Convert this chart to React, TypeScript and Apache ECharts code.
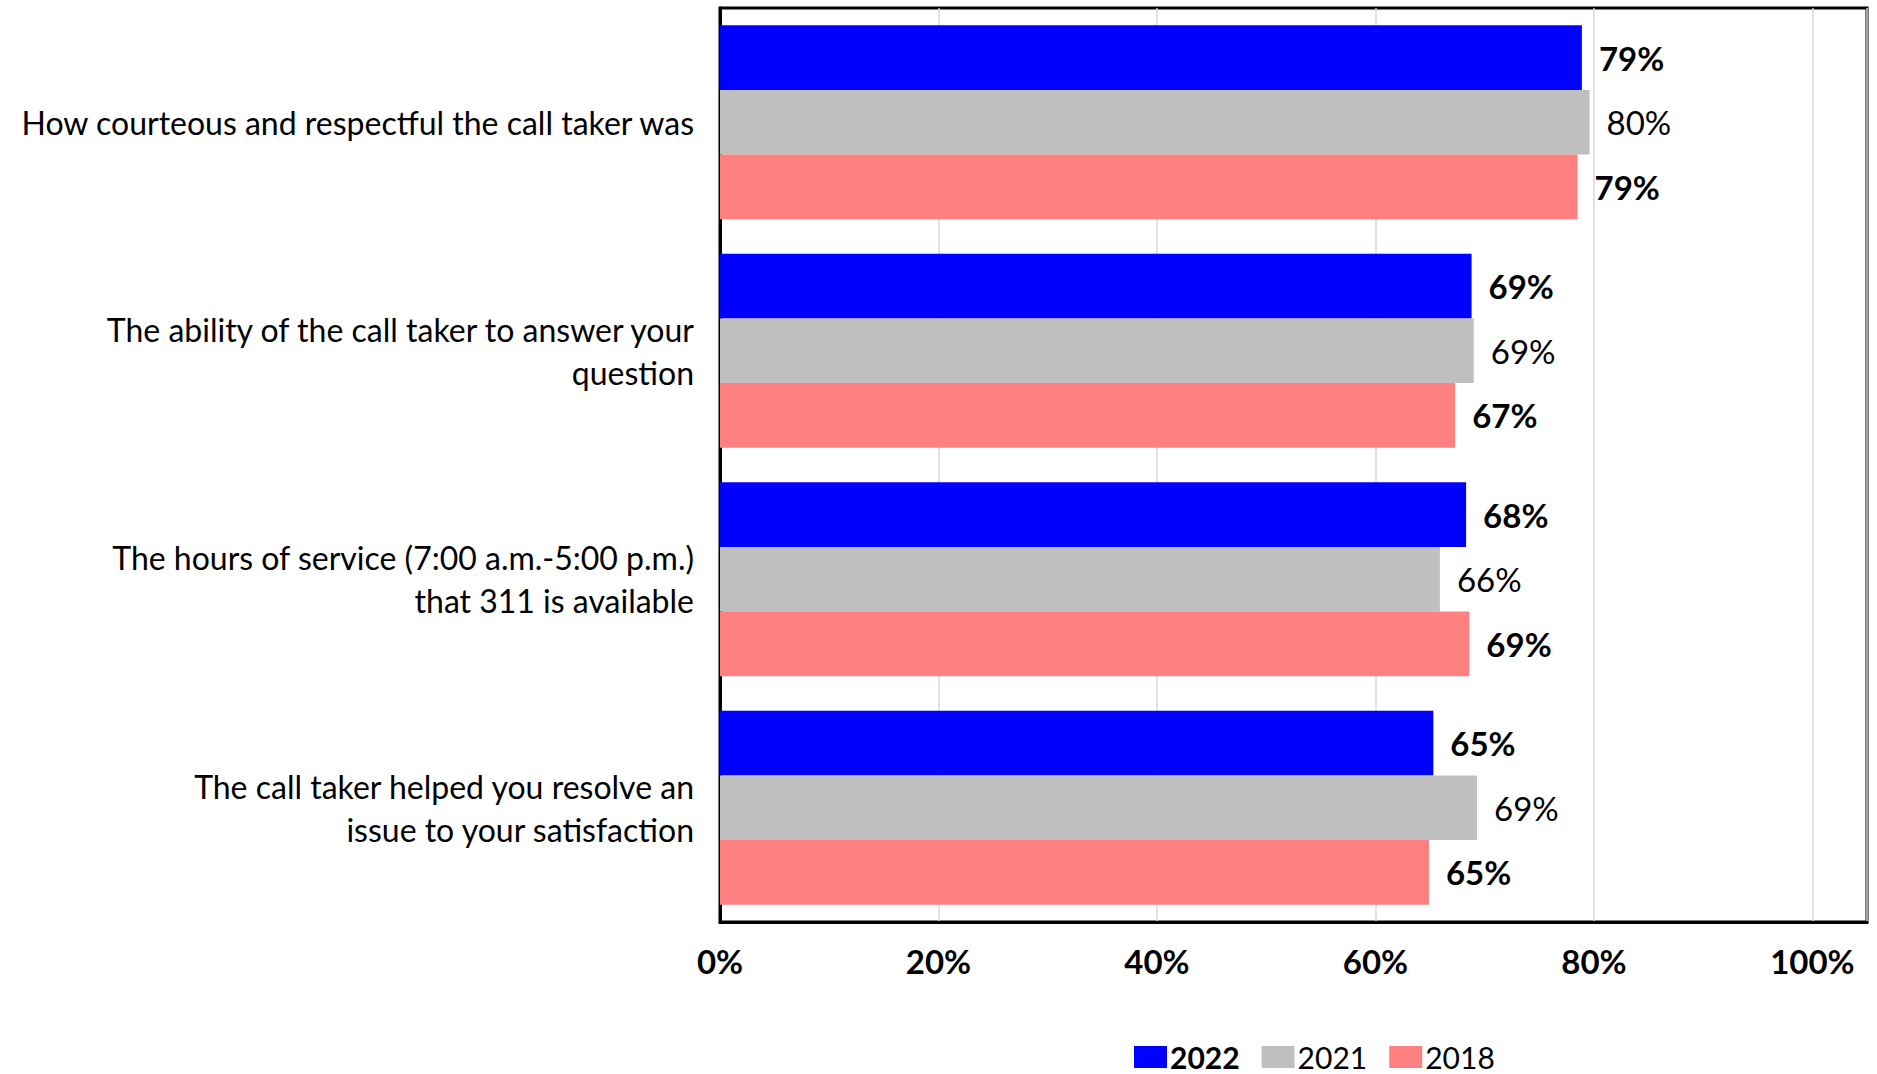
import React, { useEffect, useRef } from "react";
import * as echarts from "echarts";

const categories = [
  "How courteous and respectful the call taker was",
  "The ability of the call taker to answer your\nquestion",
  "The hours of service (7:00 a.m.-5:00 p.m.)\nthat 311 is available",
  "The call taker helped you resolve an\nissue to your satisfaction",
];
const seriesNames = ["2022", "2021", "2018"];
const values2022 = [78.9, 68.8, 68.3, 65.3];
const values2021 = [79.6, 69.0, 65.9, 69.3];
const values2018 = [78.5, 67.3, 68.6, 64.9];
const xTicks = [0, 20, 40, 60, 80, 100];

const FONT = "Lato";

export default function App() {
  const ref = useRef<HTMLDivElement>(null);
  useEffect(() => {
    if (!ref.current) return;
    const chart = echarts.init(ref.current, undefined, { renderer: "svg" });
    const colors = ["#0000ff", "#bfbfbf", "#ff8080"];
    const data = [values2022, values2021, values2018];
    const weights = ["bold", "normal", "bold"];
    chart.setOption({
      animation: false,
      textStyle: { fontFamily: FONT, color: "#000" },
      grid: {
        left: 720,
        top: 8,
        right: 10,
        bottom: 152,
        show: true,
        borderColor: "#000",
        borderWidth: 3,
        backgroundColor: "#fff",
      },
      legend: {
        left: 1134,
        top: 1042,
        padding: 0,
        itemWidth: 33,
        itemHeight: 22,
        itemGap: 22,
        icon: "rect",
        textStyle: {
          fontFamily: FONT,
          fontSize: 30,
          lineHeight: 30,
          color: "#000",
          padding: [0, 0, 0, -2],
        },
        data: [
          { name: seriesNames[0], textStyle: { fontWeight: "bold" } },
          { name: seriesNames[1] },
          { name: seriesNames[2] },
        ],
      },
      xAxis: {
        type: "value",
        min: 0,
        max: 105,
        interval: 20,
        axisLine: { show: true, lineStyle: { color: "#000", width: 3 } },
        axisTick: { show: false },
        splitLine: { show: true, lineStyle: { color: "#d9d9d9", width: 1.5 } },
        axisLabel: {
          margin: 22,
          fontFamily: FONT,
          fontSize: 33,
          fontWeight: "bold",
          color: "#000",
          showMaxLabel: false,
          formatter: (v: number) => (xTicks.indexOf(v) >= 0 ? v + "%" : ""),
        },
      },
      yAxis: {
        type: "category",
        inverse: true,
        data: categories,
        axisLine: { show: true, lineStyle: { color: "#000", width: 3 } },
        axisTick: { show: false },
        axisLabel: {
          margin: 26,
          fontFamily: FONT,
          fontSize: 32,
          lineHeight: 43,
          color: "#000",
          align: "right",
        },
      },
      series: seriesNames.map((name, i) => ({
        name,
        type: "bar",
        data: data[i],
        barGap: "0%",
        barCategoryGap: "15%",
        itemStyle: { color: colors[i] },
        label: {
          show: true,
          position: "right",
          distance: 17,
          fontFamily: FONT,
          fontSize: 33,
          fontWeight: weights[i],
          color: "#000",
          formatter: (p: any) => Math.round(p.value) + "%",
        },
      })),
    });
    return () => chart.dispose();
  }, []);
  return (
    <div
      ref={ref}
      style={{ position: "absolute", left: 0, top: 0, width: 1877, height: 1074 }}
    />
  );
}
